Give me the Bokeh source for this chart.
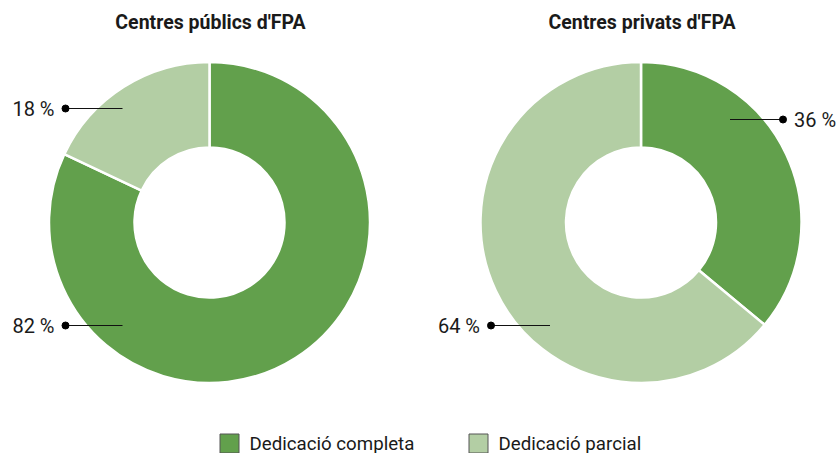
import numpy as np
from bokeh.plotting import figure
from bokeh.models import Range1d
from bokeh.core.properties import value
from bokeh.embed import file_html
from bokeh.resources import INLINE

# ---- data ----
titles = ["Centres públics d'FPA", "Centres privats d'FPA"]
categories = ["Dedicació completa", "Dedicació parcial"]
completa = [82, 36]
parcial = [18, 64]
colors = ["#62A04C", "#B3CEA4"]

# ---- layout (screen-like coordinates) ----
W, H = 840, 453
def sy(y):
    return H - y  # screen y -> data y

centers_x = [209, 640.5]
center_y = 222
R_OUT, R_IN = 160.5, 75

# label placement for each donut: (dot offset, inner offset, screen y) per category
label_layout = [
    [(-144, -87, 325), (-144, -87, 108)],
    [(142, 89, 119), (-150, -91, 325)],
]

p = figure(width=W, height=H, output_backend="svg", toolbar_location=None,
           x_range=Range1d(0, W), y_range=Range1d(0, H),
           min_border=0, outline_line_color=None)
p.axis.visible = False
p.grid.visible = False
p.background_fill_color = "white"
p.border_fill_color = "white"

FONT = value("Roboto")

for i in range(2):
    vals = [completa[i], parcial[i]]
    total = float(sum(vals))
    cx, cy = centers_x[i], sy(center_y)
    start = np.pi / 2
    for k, v in enumerate(vals):
        end = start - v / total * 2 * np.pi
        p.annular_wedge(x=[cx], y=[cy], inner_radius=R_IN, outer_radius=R_OUT,
                        start_angle=[start], end_angle=[end], direction="clock",
                        fill_color=colors[k], line_color="white", line_width=2.5)
        start = end
    # title
    p.text(x=[cx + 1], y=[sy(22)], text=[titles[i]], text_font=FONT,
           text_font_size=value("19.5px"), text_font_style="bold",
           text_align="center", text_baseline="middle", text_color="#1a1a1a")
    # labels
    for k, v in enumerate(vals):
        dot_off, inner_off, ly = label_layout[i][k]
        dot_x = cx + dot_off
        inner_x = cx + inner_off
        if dot_off < 0:
            tx, align = dot_x - 11, "right"
        else:
            tx, align = dot_x + 11, "left"
        p.segment(x0=[dot_x], y0=[sy(ly)], x1=[inner_x], y1=[sy(ly)],
                  line_color="#111111", line_width=1.2)
        p.scatter(x=[dot_x], y=[sy(ly)], size=7, fill_color="black",
                  line_color="black")
        p.text(x=[tx], y=[sy(ly)], text=[f"{v} %"], text_font=FONT,
               text_font_size=value("20px"), text_align=align,
               text_baseline="middle", text_color="#1a1a1a")

# legend
leg_x = [229, 478]
leg_y = sy(443)
for k in range(2):
    p.rect(x=[leg_x[k]], y=[leg_y], width=19, height=19,
           fill_color=colors[k], line_color="#555555", line_width=1)
    p.text(x=[leg_x[k] + 20], y=[leg_y], text=[categories[k]], text_font=FONT,
           text_font_size=value("18.7px"), text_align="left",
           text_baseline="middle", text_color="#1a1a1a")

open("out.html", "w").write(file_html(p, INLINE))
